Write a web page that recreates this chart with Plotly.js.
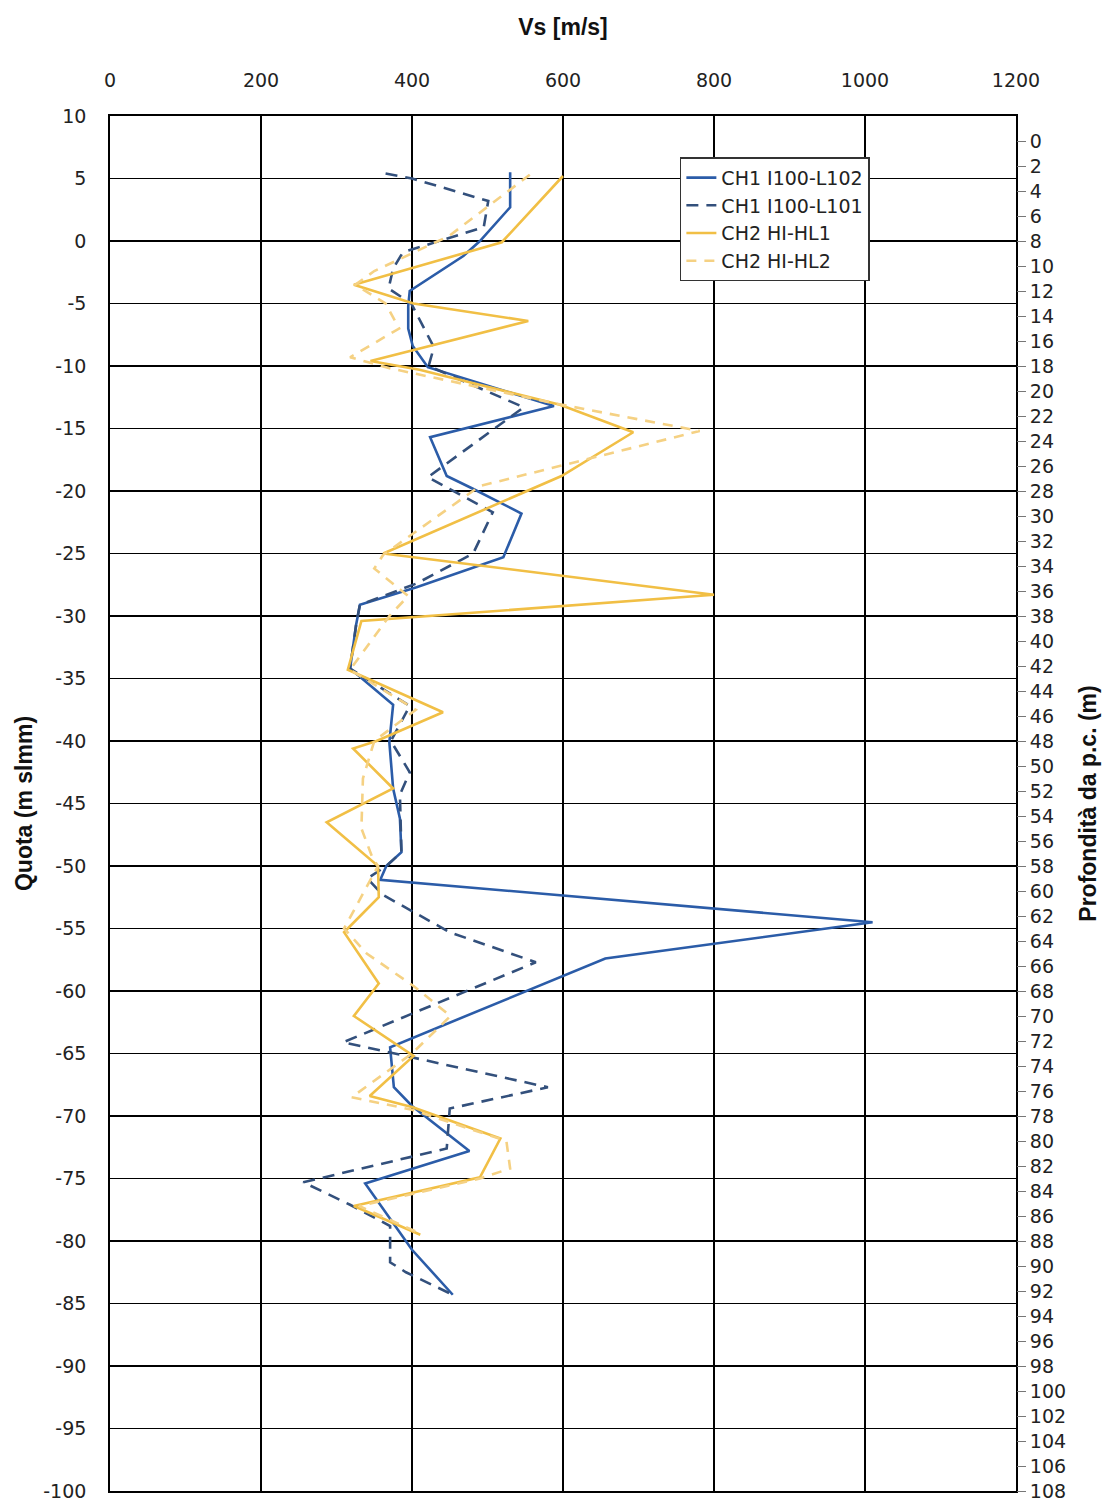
<!DOCTYPE html>
<html>
<head>
<meta charset="utf-8">
<script src="https://cdn.plot.ly/plotly-3.0.1.min.js"></script>
<style>html,body{margin:0;padding:0;background:#fff;}#chart{width:1105px;height:1505px;}</style>
</head>
<body>
<div id="chart"></div>
<script>
// Series names
const seriesNames = ["CH1 I100-L102", "CH1 I100-L101", "CH2 HI-HL1", "CH2 HI-HL2"];

// CH1 I100-L102 (quota m slmm, Vs m/s)
const quotaA = [5.5, 2.7, 0, -1.2, -4, -5.2, -7, -8.4, -10.1, -13.2, -15.7, -18.8, -19.8, -21.8, -25.3, -27.7, -29.1, -30.7, -34.2, -37.1, -40.1, -43.8, -46.2, -48.9, -50.0, -51.1, -54.5, -57.4, -64.5, -67.7, -69.2, -72.8, -75.4, -80.7, -84.3];
const vsA    = [530, 530, 490, 468, 397, 395, 395, 401, 421, 588, 424, 446, 480, 545, 521, 406, 331, 326, 318, 375, 370, 375, 384, 386, 366, 358, 1010, 656, 371, 376, 400, 476, 338, 400, 454];

// CH1 I100-L101
const quotaB = [5.4, 5.0, 3.2, 1.1, -0.9, -2.2, -3.8, -5.0, -8.5, -10.0, -13.3, -18.9, -21.7, -25.0, -27.4, -29.1, -30.7, -34.2, -37.2, -40.0, -42.5, -44.3, -48.9, -50.0, -51.0, -52.3, -55.3, -57.7, -64.1, -67.7, -69.4, -72.6, -75.3, -77.1, -78.8, -81.7, -82.5, -84.3];
const vsB    = [365, 400, 501, 495, 388, 375, 369, 399, 429, 422, 548, 421, 507, 481, 406, 331, 326, 318, 397, 372, 397, 384, 386, 366, 341, 361, 450, 564, 309, 580, 450, 446, 256, 318, 371, 371, 392, 454];

// CH2 HI-HL1
const quotaC = [5.2, -0.1, -3.5, -5.0, -6.4, -9.6, -10.3, -13.1, -15.3, -18.8, -25.0, -28.3, -30.4, -34.3, -37.7, -40.0, -40.6, -43.8, -46.5, -50.0, -52.5, -55.3, -59.4, -62.0, -65.2, -68.4, -69.3, -71.8, -74.9, -77.2, -79.5];
const vsC    = [600, 519, 323, 402, 554, 345, 410, 596, 693, 598, 362, 800, 333, 315, 441, 353, 322, 375, 287, 355, 356, 310, 356, 323, 402, 344, 401, 517, 490, 323, 411];

// CH2 HI-HL2
const quotaD = [5.3, 0.4, -2.4, -3.5, -5.0, -7.0, -9.3, -10.2, -13.0, -15.2, -19.6, -25.1, -26.2, -28.4, -30.0, -34.3, -37.5, -40.0, -43.0, -47.0, -49.4, -50.0, -55.0, -57.0, -59.6, -62.0, -65.0, -68.5, -69.5, -72.0, -74.2, -75.0, -77.2, -79.4];
const vsD    = [556, 449, 350, 325, 365, 383, 318, 372, 590, 781, 490, 362, 350, 395, 370, 318, 405, 350, 335, 333, 348, 355, 310, 340, 402, 451, 400, 320, 400, 525, 530, 490, 330, 411];

// Axis tick labels
const vsTicks = [0, 200, 400, 600, 800, 1000, 1200];
const quotaTicks = [10, 5, 0, -5, -10, -15, -20, -25, -30, -35, -40, -45, -50, -55, -60, -65, -70, -75, -80, -85, -90, -95, -100];
const depthTicks = [];
for (let d = 0; d <= 108; d += 2) depthTicks.push(d);

const colors = ["#2b5ca8", "#33507c", "#f1bf45", "#f5d183"];
const dashes = ["solid", "12px,8px", "solid", "10px,8px"];
const quotas = [quotaA, quotaB, quotaC, quotaD];
const vss = [vsA, vsB, vsC, vsD];

const traces = seriesNames.map((n, i) => ({
  type: "scatter", mode: "lines", name: n,
  x: vss[i], y: quotas[i],
  line: {color: colors[i], width: 2.6, dash: dashes[i]},
  xaxis: "x", yaxis: "y"
}));
// invisible helper trace for right depth axis
traces.push({type: "scatter", mode: "lines", x: [0, 0], y: [0, 108], yaxis: "y2", xaxis: "x",
  showlegend: false, hoverinfo: "skip", line: {color: "rgba(0,0,0,0)", width: 0}});

const tickFont = {family: "DejaVu Sans, Liberation Sans, sans-serif", size: 19, color: "#222"};
const titleFont = {family: "Liberation Sans, Arial, sans-serif", size: 23, color: "#111"};

const layout = {
  width: 1105, height: 1505,
  margin: {l: 110, r: 89, t: 116, b: 14},
  paper_bgcolor: "#fff", plot_bgcolor: "#fff",
  showlegend: true,
  legend: {x: 0.629, y: 0.970, xanchor: "left", yanchor: "top",
    bgcolor: "#fff", bordercolor: "#333", borderwidth: 1.5,
    font: {family: "DejaVu Sans, sans-serif", size: 19, color: "#222"},
    tracegroupgap: 0},
  xaxis: {
    side: "top", range: [0, 1200],
    tickvals: vsTicks, ticktext: vsTicks.map(String),
    showgrid: true, gridcolor: "#000", gridwidth: 1.8,
    zeroline: false, showline: true, linecolor: "#000", linewidth: 1.8, mirror: true,
    ticks: "", ticklabelstandoff: 20, tickfont: tickFont,
    title: {text: "<b>Vs [m/s]</b>", font: titleFont, standoff: 26}
  },
  yaxis: {
    range: [-100, 10],
    tickvals: quotaTicks, ticktext: quotaTicks.map(String),
    showgrid: true, gridcolor: "#000", gridwidth: 1.8,
    zeroline: false, showline: true, linecolor: "#000", linewidth: 1.8, mirror: true,
    ticks: "", ticklabelstandoff: 18, tickfont: tickFont, ticklabeloverflow: "allow",
    title: {text: "<b>Quota (m slmm)</b>", font: titleFont, standoff: 4}
  },
  yaxis2: {
    overlaying: "y", side: "right", range: [108, -2],
    tickvals: depthTicks, ticktext: depthTicks.map(String),
    showgrid: false, zeroline: false, showline: false,
    ticks: "outside", ticklen: 9, tickcolor: "#777", tickwidth: 1,
    tickfont: tickFont, ticklabeloverflow: "allow",
    title: {text: "<b>Profondità da p.c. (m)</b>", font: titleFont, standoff: 14}
  }
};

Plotly.newPlot("chart", traces, layout, {displayModeBar: false, staticPlot: true});
</script>
</body>
</html>
